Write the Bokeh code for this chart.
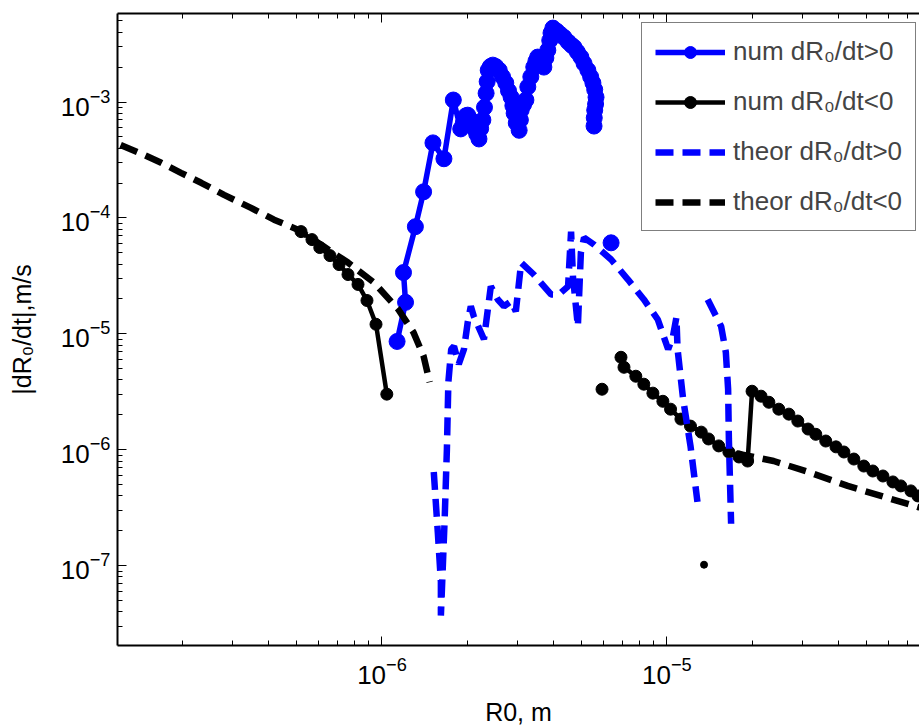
import math
from bokeh.plotting import figure
from bokeh.models import (LogAxis, LogTicker, Legend, LegendItem, Range1d,
                          CustomJSTickFormatter, ColumnDataSource)
from bokeh.embed import file_html
from bokeh.resources import INLINE

nan = float("nan")

# ---------------- data ----------------
# numerical dR0/dt > 0  (blue, solid with markers)
num_pos_r = [1.13e-6, 1.21e-6, 1.19e-6, 1.31e-6, 1.40e-6, 1.51e-6, 1.65e-6, 1.78e-6,
             1.89e-6, 1.93e-6, 1.97e-6, 2.00e-6, 2.05e-6, 2.10e-6, 2.15e-6, 2.19e-6,
             2.22e-6, 2.26e-6, 2.29e-6, 2.32e-6, 2.34e-6, 2.36e-6, 2.40e-6, 2.45e-6,
             2.51e-6, 2.58e-6, 2.65e-6, 2.72e-6, 2.78e-6, 2.84e-6, 2.88e-6, 2.91e-6,
             2.96e-6, 3.03e-6, 3.06e-6, 3.08e-6, 3.14e-6, 3.20e-6, 3.25e-6, 3.33e-6,
             3.41e-6, 3.47e-6, 3.52e-6, 3.61e-6, 3.70e-6, 3.76e-6, 3.82e-6, 3.88e-6,
             3.92e-6, 3.98e-6, 4.10e-6, 4.22e-6, 4.35e-6, 4.50e-6, 4.62e-6, 4.72e-6,
             4.85e-6, 4.99e-6, 5.12e-6, 5.28e-6, 5.40e-6, 5.50e-6, 5.58e-6, 5.64e-6,
             5.62e-6, 5.58e-6, 5.56e-6, 5.55e-6, nan, 6.37e-6]
num_pos_v = [8.6e-6, 1.87e-5, 3.38e-5, 8.4e-5, 1.68e-4, 4.44e-4, 3.24e-4, 1.04e-3,
             5.86e-4, 6.6e-4, 7.6e-4, 7.7e-4, 7.0e-4, 6.0e-4, 5.3e-4, 4.8e-4,
             5.9e-4, 7.0e-4, 9.0e-4, 1.19e-3, 1.5e-3, 1.88e-3, 2.02e-3, 2.08e-3,
             2.02e-3, 1.88e-3, 1.65e-3, 1.46e-3, 1.25e-3, 1.10e-3, 9.3e-4, 8.0e-4,
             6.6e-4, 5.7e-4, 7.0e-4, 8.5e-4, 9.5e-4, 1.04e-3, 1.35e-3, 1.65e-3,
             2.0e-3, 2.25e-3, 2.44e-3, 2.2e-3, 2.0e-3, 2.4e-3, 2.8e-3, 3.4e-3,
             3.93e-3, 4.34e-3, 4.1e-3, 3.85e-3, 3.62e-3, 3.3e-3, 3.1e-3, 2.97e-3,
             2.7e-3, 2.44e-3, 2.15e-3, 1.88e-3, 1.65e-3, 1.46e-3, 1.28e-3, 1.10e-3,
             9.6e-4, 8.5e-4, 7.3e-4, 6.2e-4, nan, 6.1e-5]

# numerical dR0/dt < 0  (black, solid with markers)
num_neg_r = [5.20e-7, 5.68e-7, 6.05e-7, 6.57e-7, 7.07e-7, 7.60e-7, 8.24e-7, 8.86e-7,
             9.53e-7, 1.04e-6, nan, 5.92e-6, nan,
             6.90e-6, 7.07e-6, 7.78e-6, 8.30e-6, 8.93e-6, 9.68e-6, 1.03e-5, 1.12e-5,
             1.21e-5, 1.32e-5, 1.40e-5, 1.52e-5, 1.65e-5, 1.79e-5, 1.92e-5,
             1.99e-5, 2.14e-5, 2.28e-5, 2.47e-5, 2.68e-5, 2.88e-5, 3.13e-5, 3.33e-5,
             3.61e-5, 3.92e-5, 4.18e-5, 4.53e-5, 4.91e-5, 5.28e-5, 5.73e-5, 6.21e-5,
             6.62e-5, 7.18e-5, 7.60e-5, 8.3e-5]
num_neg_v = [7.62e-5, 6.50e-5, 5.55e-5, 4.73e-5, 3.96e-5, 3.25e-5, 2.67e-5, 1.94e-5,
             1.21e-5, 3.02e-6, nan, 3.33e-6, nan,
             6.28e-6, 5.15e-6, 4.31e-6, 3.68e-6, 3.08e-6, 2.62e-6, 2.24e-6, 1.84e-6,
             1.60e-6, 1.42e-6, 1.24e-6, 1.08e-6, 9.57e-7, 8.67e-7, 8.00e-7,
             3.20e-6, 2.90e-6, 2.57e-6, 2.24e-6, 2.03e-6, 1.77e-6, 1.51e-6, 1.36e-6,
             1.19e-6, 1.06e-6, 9.57e-7, 8.32e-7, 7.24e-7, 6.56e-7, 5.94e-7, 5.28e-7,
             4.88e-7, 4.42e-7, 4.00e-7, 3.6e-7]

# single small point
small_r = [1.35e-5]
small_v = [1.02e-7]

# theoretical dR0/dt > 0  (blue dashed)
th_pos_r = [1.52e-6, 1.57e-6, 1.61e-6, 1.61e-6, 1.66e-6, 1.69e-6, 1.71e-6, 1.75e-6,
            1.79e-6, 1.86e-6, 1.94e-6, 2.00e-6, 2.05e-6, 2.10e-6, 2.28e-6, 2.41e-6,
            2.55e-6, 2.68e-6, 2.84e-6, 2.95e-6, 3.08e-6, 3.41e-6, 3.92e-6, 4.18e-6,
            4.50e-6, 4.61e-6, 4.68e-6, 4.87e-6, 4.99e-6, 5.12e-6, 5.55e-6, 6.37e-6,
            7.30e-6, 8.30e-6, 9.29e-6, 1.01e-5, 1.05e-5, 1.08e-5, 1.09e-5, 1.14e-5,
            1.21e-5, 1.28e-5, nan,
            1.39e-5, 1.55e-5, 1.61e-5, 1.64e-5, 1.65e-5, 1.68e-5]
th_pos_v = [6.44e-7, 1.96e-7, 7.28e-8, 3.72e-8, 2.54e-7, 1.01e-6, 3.83e-6, 7.36e-6,
            7.80e-6, 5.47e-6, 7.36e-6, 1.26e-5, 1.73e-5, 1.42e-5, 8.98e-6, 2.57e-5,
            1.98e-5, 1.73e-5, 1.91e-5, 1.56e-5, 4.12e-5, 3.25e-5, 2.19e-5, 2.19e-5,
            2.57e-5, 7.62e-5, 3.13e-5, 1.16e-5, 5.02e-5, 6.76e-5, 5.89e-5, 4.38e-5,
            2.94e-5, 1.98e-5, 1.33e-5, 7.36e-6, 9.51e-6, 1.39e-5, 7.36e-6, 2.73e-6,
            1.08e-6, 3.56e-7, nan,
            1.98e-5, 1.16e-5, 6.93e-6, 3.33e-6, 1.24e-6, 2.30e-7]

# theoretical dR0/dt < 0  (black dashed)
th_neg_r = [1.21e-7, 1.46e-7, 1.68e-7, 1.97e-7, 2.32e-7, 2.79e-7, 3.47e-7, 4.18e-7,
            5.07e-7, 6.25e-7, 7.60e-7, 9.37e-7, 1.14e-6, 1.29e-6, 1.40e-6, 1.47e-6, nan,
            1.75e-5, 2.37e-5, 3.13e-5, 4.31e-5, 5.64e-5, 7.60e-5, 8.5e-5]
th_neg_v = [4.26e-4, 3.50e-4, 2.99e-4, 2.45e-4, 2.01e-4, 1.58e-4, 1.22e-4, 9.66e-5,
            7.92e-5, 5.66e-5, 4.12e-5, 2.77e-5, 1.63e-5, 1.03e-5, 6.4e-6, 3.83e-6, nan,
            9.3e-7, 8.00e-7, 6.44e-7, 4.88e-7, 4.00e-7, 3.21e-7, 3.0e-7]

x_lo, x_hi = 1.18e-7, 7.7e-5
y_lo, y_hi = 2.05e-8, 5.8e-3

FONT = "Liberation Sans"
BLUE = "#0000ff"

p = figure(width=919, height=728, x_axis_type="log", y_axis_type="log",
           x_range=Range1d(x_lo, x_hi), y_range=Range1d(y_lo, y_hi),
           output_backend="svg", toolbar_location=None,
           min_border_left=117, min_border_right=0, min_border_top=13,
           min_border_bottom=81)
p.outline_line_color = None
p.grid.visible = False
p.background_fill_color = "white"
p.border_fill_color = "white"

p.xaxis.axis_label = "R0, m"
p.yaxis.axis_label = "|dR\u2080/dt|,m/s"

for ax in (p.xaxis[0], p.yaxis[0]):
    ax.ticker = LogTicker(num_minor_ticks=10)
    ax.axis_line_width = 2
    ax.major_tick_in = 9
    ax.major_tick_out = 0
    ax.minor_tick_in = 5
    ax.minor_tick_out = 0
    ax.major_tick_line_width = 1
    ax.minor_tick_line_width = 1
    ax.major_label_text_font = FONT
    ax.major_label_text_font_size = "26px"
    ax.major_label_text_color = "black"
    ax.axis_label_text_font = FONT
    ax.axis_label_text_font_size = "25px"
    ax.axis_label_text_font_style = "normal"
    ax.axis_label_text_color = "black"

p.yaxis[0].major_label_standoff = 7
p.yaxis[0].axis_label_standoff = 22
p.xaxis[0].major_label_standoff = 11
p.xaxis[0].axis_label_standoff = 11

top = LogAxis(ticker=LogTicker(num_minor_ticks=10),
              formatter=CustomJSTickFormatter(code="return ''"),
              axis_line_width=2, major_tick_in=9, major_tick_out=0,
              minor_tick_in=5, minor_tick_out=0, major_label_standoff=0)
p.add_layout(top, "above")

src_np = ColumnDataSource(dict(r=num_pos_r, v=num_pos_v))
src_nn = ColumnDataSource(dict(r=num_neg_r, v=num_neg_v))
src_sm = ColumnDataSource(dict(r=small_r, v=small_v))
src_tp = ColumnDataSource(dict(r=th_pos_r, v=th_pos_v))
src_tn = ColumnDataSource(dict(r=th_neg_r, v=th_neg_v))

l1 = p.line("r", "v", source=src_np, line_color=BLUE, line_width=5.5)
m1 = p.scatter("r", "v", source=src_np, size=16, fill_color=BLUE, line_color=BLUE)
l2 = p.line("r", "v", source=src_nn, line_color="black", line_width=4.5)
m2 = p.scatter("r", "v", source=src_nn, size=12, fill_color="black", line_color="black")
p.scatter("r", "v", source=src_sm, size=7, fill_color="black", line_color="black")
l3 = p.line("r", "v", source=src_tp, line_color=BLUE, line_width=6.5, line_dash="18 9")
l4 = p.line("r", "v", source=src_tn, line_color="black", line_width=6.5, line_dash="18 9")

legend = Legend(items=[
    LegendItem(label="num dR\u2080/dt>0", renderers=[l1, m1]),
    LegendItem(label="num dR\u2080/dt<0", renderers=[l2, m2]),
    LegendItem(label="theor dR\u2080/dt>0", renderers=[l3]),
    LegendItem(label="theor dR\u2080/dt<0", renderers=[l4]),
], location=(524, 414))
legend.label_text_font = FONT
legend.label_text_font_size = "26px"
legend.glyph_width = 70
legend.glyph_height = 30
legend.label_height = 30
legend.spacing = 19
legend.padding = 13
legend.margin = 0
legend.label_standoff = 8
legend.border_line_color = "black"
legend.border_line_width = 1
legend.background_fill_alpha = 1
p.add_layout(legend)

open("out.html", "w").write(file_html(p, INLINE))
